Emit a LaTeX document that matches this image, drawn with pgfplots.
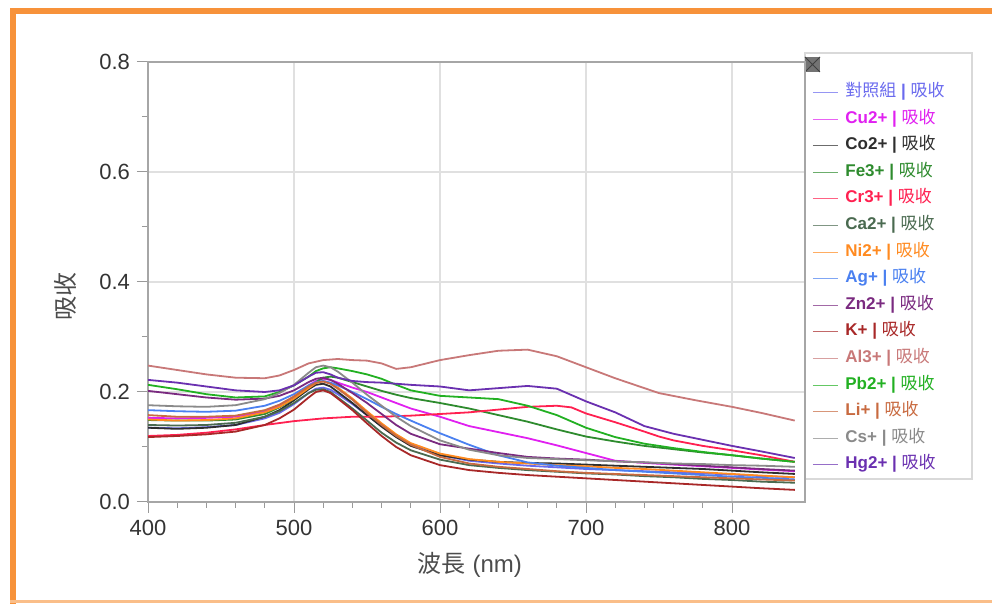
\documentclass[border=0pt]{standalone}
\usepackage{pgfplots}
\pgfplotsset{compat=1.18}
\usepackage{fontspec}
\setmainfont{Liberation Sans}
\newfontfamily\cjk{Noto Sans CJK TC}
\definecolor{cCtl}{HTML}{6A6AEE}
\definecolor{cCu}{HTML}{E020F0}
\definecolor{cCo}{HTML}{2E2E2E}
\definecolor{cFe}{HTML}{2E8B2E}
\definecolor{cCr}{HTML}{FF2050}
\definecolor{cCa}{HTML}{4A6A50}
\definecolor{cNi}{HTML}{FF8A20}
\definecolor{cAg}{HTML}{4A80F0}
\definecolor{cZn}{HTML}{7A2A80}
\definecolor{cK}{HTML}{A82828}
\definecolor{cAl}{HTML}{C87878}
\definecolor{cPb}{HTML}{22B022}
\definecolor{cLi}{HTML}{C86A40}
\definecolor{cCs}{HTML}{8A8A8A}
\definecolor{cHg}{HTML}{6A30B0}
\definecolor{orng}{HTML}{F7923A}
\newcommand{\ent}[2]{\textcolor{#1}{\textbf{#2 |} {\cjk 吸收}}}
\begin{document}
\begin{tikzpicture}
\path[use as bounding box] (0,0) rectangle (496pt,302pt);
% orange frame
\fill[orng] (5pt,295pt) rectangle (496pt,298pt);
\fill[orng] (5pt,0pt) rectangle (8pt,298pt);
\fill[orng!60] (5pt,0.6pt) rectangle (496pt,1.8pt);
% legend panel
\draw[black!15, line width=0.7pt] (402.5pt,62.5pt) rectangle (486pt,275.5pt);
\fill[black!55] (402.5pt,266pt) rectangle (410pt,273.5pt);
\draw[black!75, line width=0.4pt] (402.5pt,266pt) -- (410pt,273.5pt) (402.5pt,273.5pt) -- (410pt,266pt);
\begin{axis}[
  at={(74pt,51pt)}, anchor=south west,
  scale only axis, width=328.5pt, height=220pt,
  xmin=400, xmax=850, ymin=0, ymax=0.8,
  xtick={400,500,600,700,800},
  ytick={0,0.2,0.4,0.6,0.8},
  minor x tick num=4, minor y tick num=1,
  tick align=outside, tick pos=left,
  major tick length=5.5pt, minor tick length=3pt,
  every tick/.style={black!40, line width=0.5pt},
  axis line style={black!35, line width=0.6pt},
  grid=major, major grid style={black!12, line width=0.6pt},
  /pgf/number format/assume math mode=true,
  yticklabel style={/pgf/number format/.cd, fixed, fixed zerofill, precision=1},
  xticklabel style={/pgf/number format/.cd, fixed, 1000 sep={}},
  tick label style={font=\fontsize{11}{13}\selectfont, text=black!80},
  xlabel={{\cjk 波長} (nm)}, ylabel={\cjk 吸收},
  every axis x label/.style={at={(rel axis cs:0.49,0)}, anchor=center, yshift=-31.5pt, font=\fontsize{12}{14}\selectfont, text=black!70},
  every axis y label/.style={at={(axis description cs:-0.1263,0.468)}, anchor=center, rotate=90, font=\fontsize{12}{14}\selectfont, text=black!70},
  legend cell align=left,
  legend style={at={(1,1)}, anchor=north west, xshift=3.5pt, yshift=-10.5pt, draw=none, fill=none, inner sep=0pt, row sep=4.3pt,
    font=\fontsize{8.5}{10}\selectfont,
    nodes={inner xsep=3.5pt, inner ysep=0pt, text height=6.5pt, text depth=2.5pt}},
  legend image code/.code={\draw[#1, line width=0.5pt, opacity=0.7] (0pt,0pt) -- (12.5pt,0pt);},
  every axis plot/.append style={line width=0.9pt, line join=round},
]
\addplot[cCtl] coordinates {(400,.135)(420,.134)(440,.136)(460,.14)(480,.152)(490,.162)(500,.178)(510,.198)(515,.206)(520,.208)(525,.204)(530,.196)(540,.178)(550,.158)(560,.138)(570,.12)(580,.105)(600,.085)(620,.075)(640,.07)(660,.066)(680,.063)(700,.06)(720,.058)(740,.056)(760,.054)(780,.052)(800,.05)(820,.047)(843,.045)};
\addlegendentry{\textcolor{cCtl}{{\cjk 對照組} \textbf{|} {\cjk 吸收}}}
\addplot[cCu] coordinates {(400,.153)(420,.152)(440,.153)(460,.155)(480,.165)(490,.175)(500,.19)(510,.212)(515,.22)(520,.224)(525,.222)(530,.217)(540,.208)(550,.2)(560,.19)(570,.18)(580,.17)(600,.155)(620,.138)(640,.127)(660,.116)(680,.103)(700,.089)(720,.075)(740,.071)(760,.068)(780,.065)(800,.062)(820,.059)(843,.056)};
\addlegendentry{\ent{cCu}{Cu2+}}
\addplot[cCo] coordinates {(400,.135)(420,.133)(440,.135)(460,.14)(480,.155)(490,.167)(500,.185)(510,.205)(515,.213)(520,.215)(525,.21)(530,.2)(540,.18)(550,.158)(560,.137)(570,.118)(580,.102)(600,.085)(620,.077)(640,.073)(660,.071)(680,.07)(700,.068)(720,.066)(740,.064)(760,.062)(780,.06)(800,.057)(820,.054)(843,.051)};
\addlegendentry{\ent{cCo}{Co2+}}
\addplot[cFe] coordinates {(400,.149)(420,.148)(440,.148)(460,.15)(480,.16)(490,.172)(500,.188)(510,.208)(515,.218)(520,.226)(525,.228)(530,.226)(540,.218)(550,.21)(560,.202)(570,.195)(580,.189)(600,.18)(620,.17)(640,.158)(660,.146)(680,.132)(700,.119)(720,.11)(740,.102)(760,.096)(780,.09)(800,.085)(820,.079)(843,.073)};
\addlegendentry{\ent{cFe}{Fe3+}}
\addplot[cCr] coordinates {(400,.12)(420,.122)(440,.126)(460,.132)(480,.14)(500,.147)(520,.152)(540,.155)(560,.155)(580,.157)(600,.16)(620,.163)(640,.168)(660,.173)(680,.175)(690,.172)(700,.161)(720,.145)(740,.128)(750,.119)(760,.112)(780,.102)(800,.094)(820,.085)(843,.073)};
\addlegendentry{\ent{cCr}{Cr3+}}
\addplot[cCa] coordinates {(400,.14)(420,.139)(440,.14)(460,.144)(480,.155)(490,.165)(500,.18)(510,.198)(515,.204)(520,.205)(525,.2)(530,.19)(540,.17)(550,.148)(560,.126)(570,.108)(580,.094)(600,.077)(620,.067)(640,.062)(660,.058)(680,.055)(700,.052)(720,.05)(740,.047)(760,.045)(780,.042)(800,.04)(820,.037)(843,.035)};
\addlegendentry{\ent{cCa}{Ca2+}}
\addplot[cNi] coordinates {(400,.15)(420,.148)(440,.149)(460,.152)(480,.163)(490,.173)(500,.188)(510,.207)(515,.216)(520,.22)(525,.216)(530,.208)(540,.188)(550,.165)(560,.143)(570,.123)(580,.107)(600,.088)(620,.078)(640,.073)(660,.07)(680,.067)(700,.065)(720,.062)(740,.06)(760,.057)(780,.054)(800,.051)(820,.048)(843,.045)};
\addlegendentry{\ent{cNi}{Ni2+}}
\addplot[cAg] coordinates {(400,.167)(420,.165)(440,.164)(460,.166)(480,.175)(490,.184)(500,.196)(510,.212)(515,.218)(520,.22)(525,.217)(530,.212)(540,.2)(550,.187)(560,.173)(570,.16)(580,.148)(600,.125)(620,.104)(640,.085)(660,.072)(680,.066)(700,.062)(720,.058)(740,.055)(760,.052)(780,.049)(800,.046)(820,.044)(843,.041)};
\addlegendentry{\ent{cAg}{Ag+}}
\addplot[cZn] coordinates {(400,.202)(420,.196)(440,.19)(460,.186)(480,.188)(490,.193)(500,.203)(510,.218)(515,.224)(520,.226)(525,.222)(530,.215)(540,.198)(550,.18)(560,.16)(570,.14)(580,.124)(600,.105)(620,.097)(640,.089)(660,.082)(680,.079)(700,.077)(720,.074)(740,.072)(760,.069)(780,.066)(800,.063)(820,.06)(843,.057)};
\addlegendentry{\ent{cZn}{Zn2+}}
\addplot[cK] coordinates {(400,.118)(420,.12)(440,.123)(460,.128)(480,.14)(490,.152)(500,.168)(510,.19)(515,.2)(520,.203)(525,.198)(530,.188)(540,.167)(550,.143)(560,.12)(570,.1)(580,.085)(600,.067)(620,.058)(640,.053)(660,.049)(680,.046)(700,.043)(720,.04)(740,.037)(760,.034)(780,.031)(800,.028)(820,.025)(843,.022)};
\addlegendentry{\ent{cK}{K+}}
\addplot[cAl] coordinates {(400,.248)(420,.24)(440,.232)(460,.226)(480,.225)(490,.23)(500,.24)(510,.252)(520,.258)(530,.26)(540,.258)(550,.257)(560,.252)(570,.242)(580,.245)(600,.258)(620,.267)(640,.275)(660,.277)(680,.265)(700,.245)(720,.225)(750,.198)(775,.185)(800,.173)(820,.162)(843,.148)};
\addlegendentry{\ent{cAl}{Al3+}}
\addplot[cPb] coordinates {(400,.213)(420,.205)(440,.196)(460,.19)(480,.192)(490,.2)(500,.212)(510,.228)(515,.238)(520,.243)(525,.245)(530,.243)(540,.238)(550,.232)(560,.224)(570,.213)(580,.203)(600,.193)(620,.19)(640,.187)(660,.175)(680,.158)(700,.135)(720,.118)(740,.106)(760,.098)(780,.091)(800,.085)(820,.079)(843,.073)};
\addlegendentry{\ent{cPb}{Pb2+}}
\addplot[cLi] coordinates {(400,.158)(420,.155)(440,.155)(460,.157)(480,.167)(490,.177)(500,.192)(510,.21)(515,.217)(520,.219)(525,.215)(530,.206)(540,.186)(550,.162)(560,.14)(570,.12)(580,.104)(600,.082)(620,.07)(640,.064)(660,.06)(680,.056)(700,.053)(720,.051)(740,.049)(760,.047)(780,.045)(800,.043)(820,.041)(843,.039)};
\addlegendentry{\ent{cLi}{Li+}}
\addplot[cCs] coordinates {(400,.176)(420,.174)(440,.173)(460,.176)(480,.187)(490,.198)(500,.213)(510,.235)(515,.245)(520,.248)(525,.245)(530,.237)(540,.217)(550,.195)(560,.175)(570,.155)(580,.138)(600,.112)(620,.095)(640,.085)(660,.08)(680,.078)(700,.076)(720,.074)(740,.072)(760,.07)(780,.069)(800,.067)(820,.066)(843,.064)};
\addlegendentry{\ent{cCs}{Cs+}}
\addplot[cHg] coordinates {(400,.222)(420,.217)(440,.21)(460,.203)(480,.2)(490,.203)(500,.212)(510,.228)(515,.235)(520,.236)(525,.232)(530,.226)(540,.22)(550,.218)(560,.217)(570,.215)(580,.213)(600,.21)(620,.203)(640,.207)(660,.211)(680,.206)(700,.183)(720,.163)(740,.138)(760,.124)(780,.113)(800,.102)(820,.092)(843,.08)};
\addlegendentry{\ent{cHg}{Hg2+}}
\end{axis}
\end{tikzpicture}
\end{document}
